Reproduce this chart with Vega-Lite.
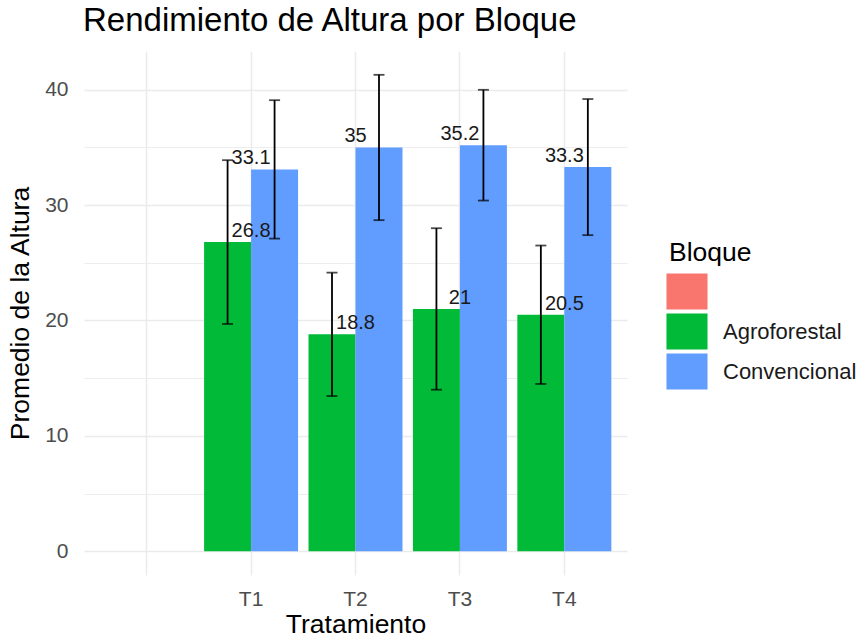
{
  "$schema": "https://vega.github.io/schema/vega-lite/v6.json",
  "width": 543,
  "height": 524,
  "autosize": {"type": "none"},
  "padding": {"left": 84, "top": 51, "right": 237, "bottom": 64},
  "background": "white",
  "title": {
    "text": "Rendimiento de Altura por Bloque",
    "anchor": "start",
    "frame": "group",
    "fontSize": 33,
    "font": "Liberation Sans",
    "fontWeight": "normal",
    "color": "#000000",
    "offset": 13,
    "dx": -1
  },
  "config": {
    "view": {"stroke": null},
    "font": "Liberation Sans",
    "axis": {
      "domain": false,
      "ticks": false,
      "tickSize": 0,
      "labelFont": "Liberation Sans",
      "labelFontSize": 21,
      "labelColor": "#4D4D4D",
      "titleFont": "Liberation Sans",
      "titleFontSize": 26.5,
      "titleFontWeight": "normal",
      "titleColor": "#000000",
      "gridColor": "#EBEBEB",
      "gridWidth": 1.5
    },
    "legend": {
      "titleFont": "Liberation Sans",
      "titleFontSize": 26.5,
      "titleFontWeight": "normal",
      "titleColor": "#000000",
      "labelFont": "Liberation Sans",
      "labelFontSize": 22,
      "labelColor": "#1A1A1A"
    }
  },
  "data": {
    "values": [
      {"Tratamiento": "T1", "Bloque": "Agroforestal", "media": 26.8, "lo": 19.7, "hi": 33.9},
      {"Tratamiento": "T1", "Bloque": "Convencional", "media": 33.1, "lo": 27.1, "hi": 39.1},
      {"Tratamiento": "T2", "Bloque": "Agroforestal", "media": 18.8, "lo": 13.45, "hi": 24.15},
      {"Tratamiento": "T2", "Bloque": "Convencional", "media": 35.0, "lo": 28.7, "hi": 41.3},
      {"Tratamiento": "T3", "Bloque": "Agroforestal", "media": 21.0, "lo": 14.0, "hi": 28.0},
      {"Tratamiento": "T3", "Bloque": "Convencional", "media": 35.2, "lo": 30.4, "hi": 40.0},
      {"Tratamiento": "T4", "Bloque": "Agroforestal", "media": 20.5, "lo": 14.5, "hi": 26.5},
      {"Tratamiento": "T4", "Bloque": "Convencional", "media": 33.3, "lo": 27.4, "hi": 39.2}
    ]
  },
  "encoding": {
    "x": {
      "field": "Tratamiento",
      "type": "nominal",
      "scale": {"domain": ["", "T1", "T2", "T3", "T4"], "paddingInner": 0.1, "paddingOuter": 0.15},
      "axis": {
        "title": "Tratamiento",
        "labelAngle": 0,
        "bandPosition": 0.5,
        "grid": true,
        "labelPadding": 13,
        "titlePadding": 2
      }
    }
  },
  "layer": [
    {
      "mark": {"type": "bar"},
      "encoding": {
        "xOffset": {"field": "Bloque", "type": "nominal", "scale": {"domain": ["Agroforestal", "Convencional"], "paddingInner": 0, "paddingOuter": 0}},
        "y": {
          "field": "media",
          "type": "quantitative",
          "scale": {"domain": [-2.065, 43.365], "nice": false, "zero": false},
          "axis": {
            "title": "Promedio de la Altura",
            "values": [0, 5, 10, 15, 20, 25, 30, 35, 40],
            "labelExpr": "datum.value % 10 === 0 ? datum.label : ''",
            "gridWidth": {"condition": {"test": "datum.value % 10 === 0", "value": 1.6}, "value": 0.9},
            "labelPadding": 16,
            "titlePadding": 10
          }
        },
        "color": {
          "field": "Bloque",
          "type": "nominal",
          "scale": {"domain": ["", "Agroforestal", "Convencional"], "range": ["#F8766D", "#00BA38", "#619CFF"]},
          "legend": {
            "title": "Bloque",
            "orient": "none",
            "legendX": 585,
            "legendY": 189,
            "padding": 0,
            "titleBaseline": "top",
            "titlePadding": 7,
            "symbolType": "M-1.14,-1H1.14V1H-1.14Z",
            "symbolSize": 1296,
            "symbolStrokeWidth": 0,
            "symbolOpacity": 1,
            "rowPadding": 4,
            "labelOffset": 18,
            "labelBaseline": "middle"
          }
        }
      }
    },
    {
      "mark": {"type": "rule", "color": "#000000", "strokeWidth": 1.8},
      "encoding": {
        "xOffset": {"field": "Bloque", "type": "nominal"},
        "y": {"field": "lo", "type": "quantitative"},
        "y2": {"field": "hi"}
      }
    },
    {
      "mark": {"type": "tick", "color": "#000000", "thickness": 1.8, "size": 11, "orient": "horizontal"},
      "encoding": {
        "xOffset": {"field": "Bloque", "type": "nominal"},
        "y": {"field": "lo", "type": "quantitative"}
      }
    },
    {
      "mark": {"type": "tick", "color": "#000000", "thickness": 1.8, "size": 11, "orient": "horizontal"},
      "encoding": {
        "xOffset": {"field": "Bloque", "type": "nominal"},
        "y": {"field": "hi", "type": "quantitative"}
      }
    },
    {
      "mark": {"type": "text", "fontSize": 20, "color": "#1A1A1A", "baseline": "alphabetic", "dy": -5, "font": "Liberation Sans"},
      "encoding": {
        "y": {"field": "media", "type": "quantitative"},
        "text": {"field": "media", "type": "quantitative"}
      }
    }
  ]
}
